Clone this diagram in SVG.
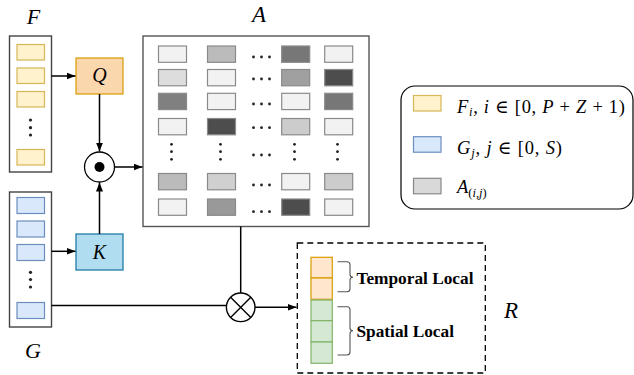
<svg xmlns="http://www.w3.org/2000/svg" width="634" height="375" viewBox="0 0 634 375">
<style>
.frame{fill:#fff;stroke:#444;stroke-width:1.4}
.fc{fill:#fff2cc;stroke:#d6b656;stroke-width:1.2}
.gc{fill:#dae8fc;stroke:#6c8ebf;stroke-width:1.2}
.ac{stroke:#8a8a8a;stroke-width:1.2}
.dot{fill:#222}
.ln{fill:none;stroke:#000;stroke-width:1.5}
.lbl{font-family:"Liberation Serif","Times New Roman","DejaVu Serif",serif;font-style:italic;fill:#000}
.mth{font-family:"Liberation Serif","Times New Roman","DejaVu Serif",serif;font-size:18.5px;fill:#000}
.it{font-style:italic}
.bold{font-family:"Liberation Serif","Times New Roman","DejaVu Serif",serif;font-weight:bold;font-size:17.3px;fill:#000}
</style>
<defs>
<marker id="arr" markerWidth="10" markerHeight="8" refX="9" refY="4" orient="auto" markerUnits="userSpaceOnUse">
<path d="M0,0.5 L9,4 L0,7.5 Z" fill="#000"/>
</marker>
</defs>

<g id="F">
<text class="lbl" x="33.5" y="24" font-size="22" text-anchor="middle">F</text>
<rect class="frame" x="9.5" y="36" width="42" height="136"/>
<rect class="fc" x="17" y="44.5" width="27.5" height="15.5"/>
<rect class="fc" x="17" y="68" width="27.5" height="15.5"/>
<rect class="fc" x="17" y="91.5" width="27.5" height="15.5"/>
<circle class="dot" cx="30.5" cy="120" r="1.6"/>
<circle class="dot" cx="30.5" cy="127.7" r="1.6"/>
<circle class="dot" cx="30.5" cy="135" r="1.6"/>
<rect class="fc" x="17" y="149.5" width="27.5" height="15.5"/>
</g>

<g id="G">
<rect class="frame" x="9.5" y="192" width="42" height="135"/>
<rect class="gc" x="17" y="197.5" width="27.5" height="16"/>
<rect class="gc" x="17" y="221" width="27.5" height="16"/>
<rect class="gc" x="17" y="244.5" width="27.5" height="16"/>
<circle class="dot" cx="30.5" cy="272.3" r="1.6"/>
<circle class="dot" cx="30.5" cy="279.5" r="1.6"/>
<circle class="dot" cx="30.5" cy="287" r="1.6"/>
<rect class="gc" x="17" y="302.5" width="27.5" height="16"/>
<text class="lbl" x="33" y="357.5" font-size="22" text-anchor="middle">G</text>
</g>

<g id="Q">
<rect x="76" y="58" width="47" height="36" fill="#fad7ac" stroke="#d79b00" stroke-width="1.2"/>
<text class="lbl" x="99.5" y="82" font-size="20" text-anchor="middle">Q</text>
</g>

<g id="K">
<rect x="76" y="234" width="47" height="36" fill="#b1ddf0" stroke="#10739e" stroke-width="1.2"/>
<text class="lbl" x="99.5" y="258.5" font-size="20" text-anchor="middle">K</text>
</g>

<g id="dotop">
<circle cx="99.5" cy="167" r="15" fill="#fff" stroke="#000" stroke-width="1.3"/>
<circle cx="99.5" cy="167" r="5" fill="#000"/>
</g>

<g id="A">
<text class="lbl" x="259" y="22" font-size="23" text-anchor="middle">A</text>
<rect x="143" y="36" width="226" height="190.5" fill="#fff" stroke="#555" stroke-width="1.4"/>
<rect class="ac" x="158.5" y="46" width="28" height="16.3" fill="#f2f2f2"/>
<rect class="ac" x="207.5" y="46" width="28" height="16.3" fill="#bbbbbb"/>
<rect class="ac" x="281.7" y="46" width="28" height="16.3" fill="#777777"/>
<rect class="ac" x="324.7" y="46" width="28" height="16.3" fill="#f2f2f2"/>
<rect class="ac" x="158.5" y="69.5" width="28" height="16.3" fill="#dddddd"/>
<rect class="ac" x="207.5" y="69.5" width="28" height="16.3" fill="#f2f2f2"/>
<rect class="ac" x="281.7" y="69.5" width="28" height="16.3" fill="#a0a0a0"/>
<rect class="ac" x="324.7" y="69.5" width="28" height="16.3" fill="#4d4d4d"/>
<rect class="ac" x="158.5" y="93.3" width="28" height="16.3" fill="#808080"/>
<rect class="ac" x="207.5" y="93.3" width="28" height="16.3" fill="#f2f2f2"/>
<rect class="ac" x="281.7" y="93.3" width="28" height="16.3" fill="#f2f2f2"/>
<rect class="ac" x="324.7" y="93.3" width="28" height="16.3" fill="#777777"/>
<rect class="ac" x="158.5" y="118.5" width="28" height="16.3" fill="#f2f2f2"/>
<rect class="ac" x="207.5" y="118.5" width="28" height="16.3" fill="#4d4d4d"/>
<rect class="ac" x="281.7" y="118.5" width="28" height="16.3" fill="#cccccc"/>
<rect class="ac" x="324.7" y="118.5" width="28" height="16.3" fill="#f2f2f2"/>
<rect class="ac" x="158.5" y="173.5" width="28" height="16.3" fill="#bbbbbb"/>
<rect class="ac" x="207.5" y="173.5" width="28" height="16.3" fill="#d0d0d0"/>
<rect class="ac" x="281.7" y="173.5" width="28" height="16.3" fill="#f2f2f2"/>
<rect class="ac" x="324.7" y="173.5" width="28" height="16.3" fill="#cccccc"/>
<rect class="ac" x="158.5" y="199" width="28" height="16.3" fill="#f2f2f2"/>
<rect class="ac" x="207.5" y="199" width="28" height="16.3" fill="#999999"/>
<rect class="ac" x="281.7" y="199" width="28" height="16.3" fill="#4d4d4d"/>
<rect class="ac" x="324.7" y="199" width="28" height="16.3" fill="#f2f2f2"/>
<g class="dot">
<circle cx="253.5" cy="57" r="1.4"/><circle cx="261.5" cy="57" r="1.4"/><circle cx="269.5" cy="57" r="1.4"/>
<circle cx="253.5" cy="79" r="1.4"/><circle cx="261.5" cy="79" r="1.4"/><circle cx="269.5" cy="79" r="1.4"/>
<circle cx="253.5" cy="104" r="1.4"/><circle cx="261.5" cy="104" r="1.4"/><circle cx="269.5" cy="104" r="1.4"/>
<circle cx="253.5" cy="127.7" r="1.4"/><circle cx="261.5" cy="127.7" r="1.4"/><circle cx="269.5" cy="127.7" r="1.4"/>
<circle cx="253.5" cy="155" r="1.4"/><circle cx="261.5" cy="155" r="1.4"/><circle cx="269.5" cy="155" r="1.4"/>
<circle cx="253.5" cy="185" r="1.4"/><circle cx="261.5" cy="185" r="1.4"/><circle cx="269.5" cy="185" r="1.4"/>
<circle cx="253.5" cy="211.7" r="1.4"/><circle cx="261.5" cy="211.7" r="1.4"/><circle cx="269.5" cy="211.7" r="1.4"/>
<circle cx="171.5" cy="144.3" r="1.4"/><circle cx="171.5" cy="151.7" r="1.4"/><circle cx="171.5" cy="159.3" r="1.4"/>
<circle cx="220.5" cy="144.3" r="1.4"/><circle cx="220.5" cy="151.7" r="1.4"/><circle cx="220.5" cy="159.3" r="1.4"/>
<circle cx="294.5" cy="144.3" r="1.4"/><circle cx="294.5" cy="151.7" r="1.4"/><circle cx="294.5" cy="159.3" r="1.4"/>
<circle cx="337.5" cy="144.3" r="1.4"/><circle cx="337.5" cy="151.7" r="1.4"/><circle cx="337.5" cy="159.3" r="1.4"/>
</g>
</g>

<g id="legend">
<rect x="401" y="86" width="232" height="123" rx="14" ry="14" fill="#fff" stroke="#000" stroke-width="1.2"/>
<rect x="413.5" y="95.5" width="27.5" height="15.5" fill="#fff2cc" stroke="#d6b656" stroke-width="1.2"/>
<rect x="413.5" y="136.7" width="27.5" height="15.5" fill="#dae8fc" stroke="#6c8ebf" stroke-width="1.2"/>
<rect x="413.5" y="178.3" width="27.5" height="15.5" fill="#d9d9d9" stroke="#888" stroke-width="1.2"/>
<text class="mth" x="457" y="113" textLength="168" lengthAdjust="spacing"><tspan class="it">F</tspan><tspan class="it" font-size="12.5" dy="3">i</tspan><tspan dy="-3">, </tspan><tspan class="it">i</tspan> ∈ [0, <tspan class="it">P</tspan> + <tspan class="it">Z</tspan> + 1)</text>
<text class="mth" x="457" y="153.5" textLength="105" lengthAdjust="spacing"><tspan class="it">G</tspan><tspan class="it" font-size="12.5" dy="3">j</tspan><tspan dy="-3">, </tspan><tspan class="it">j</tspan> ∈ [0, <tspan class="it">S</tspan>)</text>
<text class="mth" x="457" y="193"><tspan class="it">A</tspan><tspan font-size="12.5" dy="4">(<tspan class="it">i</tspan>,<tspan class="it">j</tspan>)</tspan></text>
</g>

<g id="otimes">
<circle cx="240.7" cy="307.3" r="14.3" fill="#fff" stroke="#000" stroke-width="1.4"/>
<path d="M230.6,297.2 L250.8,317.4 M250.8,297.2 L230.6,317.4" stroke="#000" stroke-width="1.4"/>
</g>

<g id="R">
<rect x="297.3" y="243" width="188" height="130" fill="none" stroke="#000" stroke-width="1.3" stroke-dasharray="6,4"/>
<rect x="311" y="257.3" width="21.3" height="20.7" fill="#ffe6cc" stroke="#d79b00" stroke-width="1.2"/>
<rect x="311" y="278" width="21.3" height="21.3" fill="#ffe6cc" stroke="#d79b00" stroke-width="1.2"/>
<rect x="311" y="300" width="21.3" height="20.7" fill="#d5e8d4" stroke="#82b366" stroke-width="1.2"/>
<rect x="311" y="320.7" width="21.3" height="21.3" fill="#d5e8d4" stroke="#82b366" stroke-width="1.2"/>
<rect x="311" y="342" width="21.3" height="21.3" fill="#d5e8d4" stroke="#82b366" stroke-width="1.2"/>
<path d="M337.5,261.7 H347 Q350,261.7 350,264.7 V274.3 Q350,277.3 353,277.3 Q350,277.3 350,280.3 V288.7 Q350,291.7 347,291.7 H337.5" fill="none" stroke="#555" stroke-width="1.1"/>
<path d="M337.5,306.7 H347 Q350,306.7 350,309.7 V327.7 Q350,330.7 353,330.7 Q350,330.7 350,333.7 V352 Q350,355 347,355 H337.5" fill="none" stroke="#555" stroke-width="1.1"/>
<text class="bold" x="356.5" y="283.5">Temporal Local</text>
<text class="bold" x="356.5" y="336.5">Spatial Local</text>
<text class="lbl" x="511" y="317.5" font-size="23" text-anchor="middle">R</text>
</g>

<g id="connectors">
<line class="ln" x1="51.5" y1="76" x2="75.5" y2="76" marker-end="url(#arr)"/>
<line class="ln" x1="99.5" y1="94" x2="99.5" y2="151.5" marker-end="url(#arr)"/>
<line class="ln" x1="99.5" y1="234" x2="99.5" y2="182.5" marker-end="url(#arr)"/>
<line class="ln" x1="114.5" y1="167" x2="142.5" y2="167" marker-end="url(#arr)"/>
<line class="ln" x1="51.5" y1="251.3" x2="75.5" y2="251.3" marker-end="url(#arr)"/>
<line class="ln" x1="240.7" y1="226.5" x2="240.7" y2="293"/>
<line class="ln" x1="51.5" y1="305.5" x2="226.4" y2="305.5"/>
<line class="ln" x1="255" y1="307.3" x2="296.5" y2="307.3" marker-end="url(#arr)"/>
</g>
</svg>
